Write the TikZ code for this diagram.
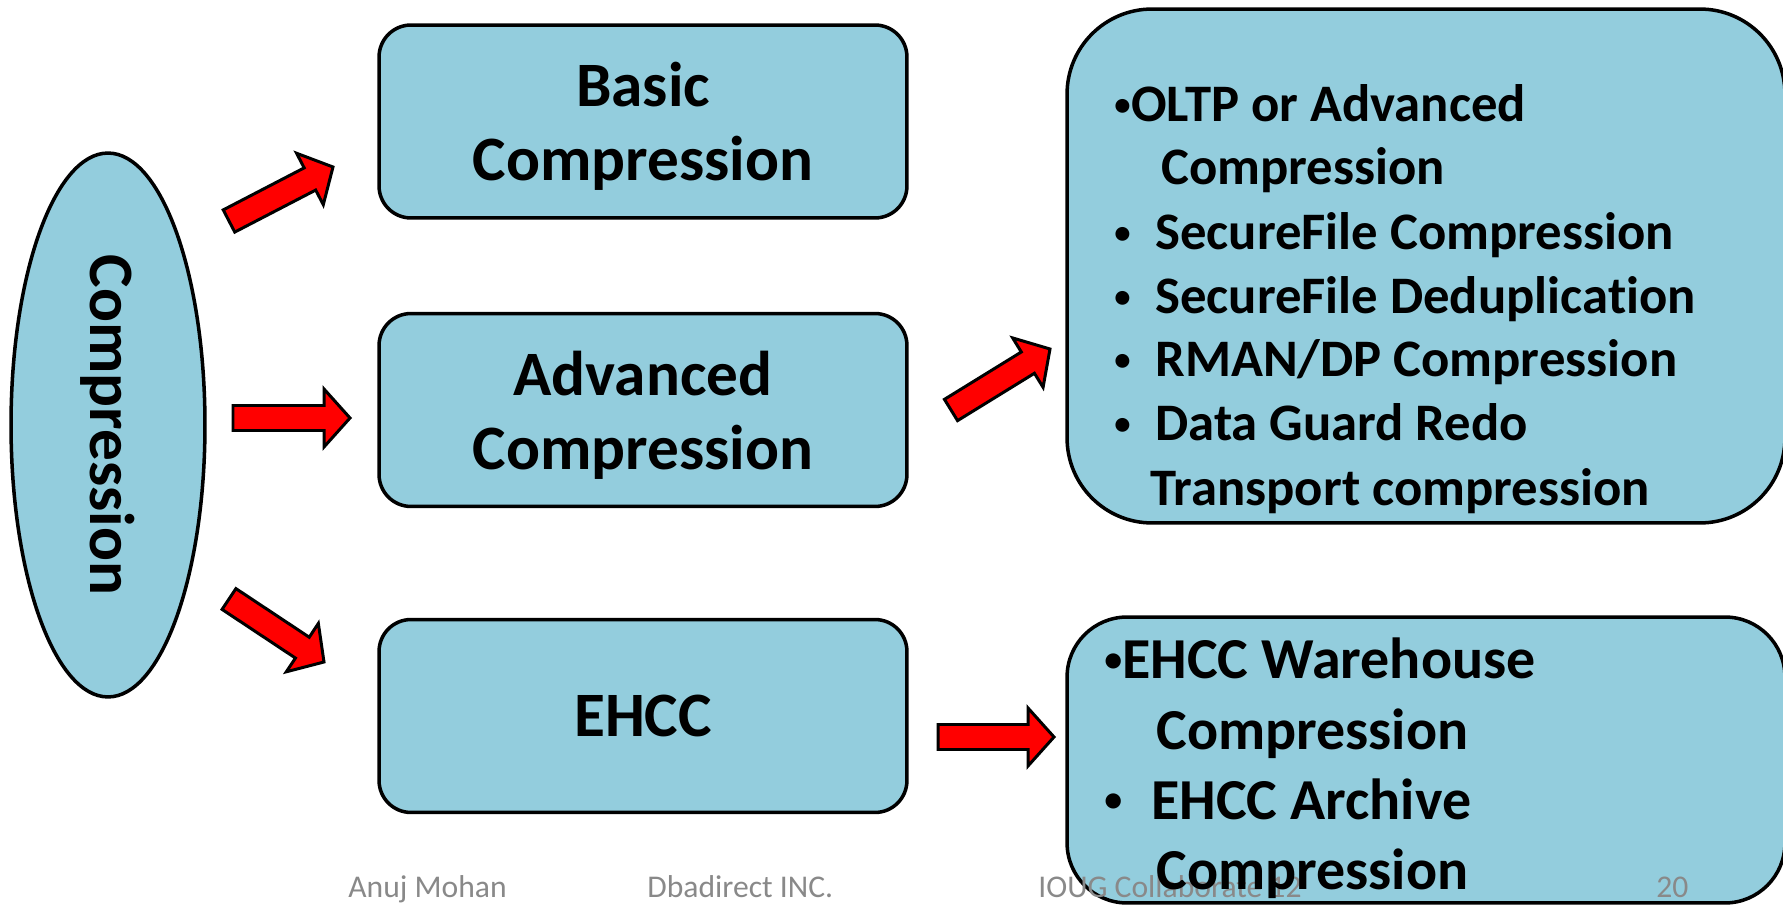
\documentclass[tikz,border=0pt]{standalone}
\usepackage{fontspec}
\setmainfont{Carlito}[Ligatures=NoCommon]
\usepackage{xcolor}
\usetikzlibrary{positioning,calc,shapes.geometric}

\definecolor{boxblue}{RGB}{147,205,221}
\definecolor{footgray}{RGB}{137,137,137}

% block arrow from #1 (tail) to #2 (tip)
\newcommand{\redarrow}[2]{%
  \coordinate (hb) at ($(#2)!0.52cm!(#1)$);
  \draw[arrowbody] ($(#1)!0.25cm!90:(#2)$) -- ($(hb)!0.25cm!90:(#2)$)
    -- ($(hb)!0.58cm!90:(#2)$) -- (#2) -- ($(hb)!0.58cm!-90:(#2)$)
    -- ($(hb)!0.25cm!-90:(#2)$) -- ($(#1)!0.25cm!-90:(#2)$) -- cycle;}
\newcommand{\smallbul}{\raisebox{0.13em}{\scalebox{0.62}{•}}}
\newcommand{\bulgap}[1]{\makebox[#1][l]{\smallbul}}

\begin{document}
\begin{tikzpicture}[x=0.02cm,y=-0.02cm,
    box/.style={draw,line width=2pt,fill=boxblue,rounded corners=0.64cm,
      minimum width=10.56cm,minimum height=3.86cm,align=center,text depth=0pt,
      font=\bfseries\fontsize{36}{42}\selectfont},
    bigbox/.style={draw,line width=2pt,fill=boxblue,minimum width=14.36cm},
    arrowbody/.style={fill=red,draw=black,line width=1.7pt,line join=miter},
    item/.style={anchor=base west,inner sep=0pt,font=\bfseries#1},
    foot/.style={anchor=base west,inner sep=0pt,text=footgray,
      font=\fontsize{18}{20}\selectfont}]
    \useasboundingbox (0,0) rectangle (1783,905);

    % Root ellipse
    \node[ellipse,draw,line width=2pt,fill=boxblue,rotate=-90,
      minimum width=10.88cm,minimum height=3.88cm,
      font=\bfseries\fontsize{36}{42}\selectfont] (comp) at (108,425) {Compression};

    % Middle boxes
    \node[box] (basic) at (643,121.5) {Basic\\Compression};
    \node[box] (adv) at (643,410) {Advanced\\Compression};
    \node[box] (ehcc) at (643,716) {EHCC};

    % Right boxes
    \node[bigbox,rounded corners=1.7cm,minimum height=10.28cm] (oltp) at (1426,266) {};
    \node[bigbox,rounded corners=1.2cm,minimum height=5.72cm] (hcc) at (1426,760) {};

    % Arrows
    \coordinate (a1s) at (229,221);  \coordinate (a1e) at (333,167);
    \coordinate (a2s) at (233,418);  \coordinate (a2e) at (350,418);
    \coordinate (a3s) at (229,599);  \coordinate (a3e) at (324,662);
    \coordinate (a4s) at (951,410);  \coordinate (a4e) at (1050,349);
    \coordinate (a5s) at (938,737);  \coordinate (a5e) at (1054,737);
    \redarrow{a1s}{a1e}
    \redarrow{a2s}{a2e}
    \redarrow{a3s}{a3e}
    \redarrow{a4s}{a4e}
    \redarrow{a5s}{a5e}

    % Footer
    \node[foot] (author) at (348,897) {Anuj Mohan};
    \node[foot] (firm) at (647,897) {Dbadirect INC.};
    \node[foot] (event) at (1038,897) {IOUG Collaborate 12};
    \node[foot] (page) at (1656,897) {20};

    % Items of the right boxes
    \foreach \x/\y/\txt [count=\i] in {1114/122/{\bulgap{0.34cm}OLTP or Advanced},
        1161/185/{Compression}, 1114/250/{\bulgap{0.82cm}SecureFile Compression},
        1114/314/{\bulgap{0.82cm}SecureFile Deduplication}, 1114/377/{\bulgap{0.82cm}RMAN/DP Compression},
        1114/441/{\bulgap{0.82cm}Data Guard Redo}, 1150/506/{Transport compression}}
      \node[item=\fontsize{30}{36}\selectfont] (ol\i) at (\x,\y) {\txt};
    \foreach \x/\y/\txt [count=\i] in {1104/679/{\bulgap{0.36cm}EHCC Warehouse},
        1156/749/{Compression}, 1104/819/{\bulgap{0.94cm}EHCC Archive},
        1156/889/{Compression}}
      \node[item=\fontsize{33}{40}\selectfont] (hc\i) at (\x,\y) {\txt};
\end{tikzpicture}
\end{document}
